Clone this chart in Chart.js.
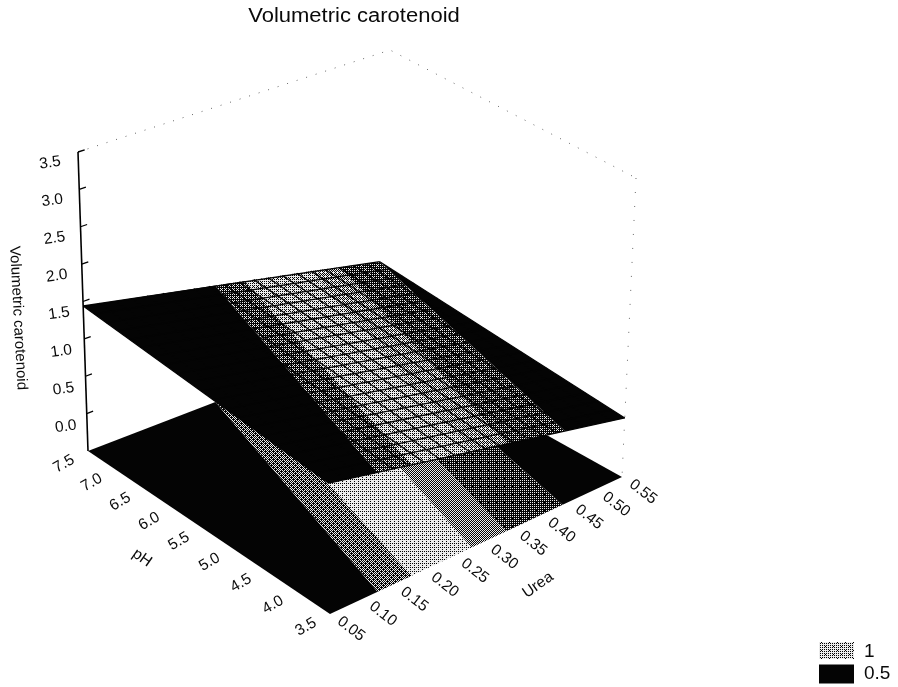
<!DOCTYPE html>
<html><head><meta charset="utf-8">
<style>html,body{margin:0;padding:0;background:#fff}canvas{display:block}</style>
<script src="https://cdn.jsdelivr.net/npm/chart.js@4"></script>
</head><body><canvas id="c" width="898" height="687"></canvas>
<script>
// ---- data ----
const titleText = "Volumetric carotenoid";
const ureaTicks = ["0.05","0.10","0.15","0.20","0.25","0.30","0.35","0.40","0.45","0.50","0.55"];
const phTicks = ["3.5","4.0","4.5","5.0","5.5","6.0","6.5","7.0","7.5"];
const zTicks = ["0.0","0.5","1.0","1.5","2.0","2.5","3.0","3.5"];
const ureaMesh = [0.05,0.075,0.10,0.125,0.15,0.175,0.20,0.225,0.25,0.275,0.30,0.325,0.35,0.375,0.40,0.425,0.45,0.475,0.50,0.525,0.55];
const phMesh = [7.5,7.3,7.1,6.9,6.7,6.5,6.3,6.1,5.9,5.7,5.5,5.3,5.1,4.9,4.7,4.5,4.3,4.1,3.9,3.7,3.5];
// surface height along its four edges
const zAtPh75 = [1.44,1.40,1.35,1.31,1.27,1.23,1.18,1.14,1.10,1.05,1.01,0.97,0.92,0.88,0.84,0.80,0.75,0.71,0.67,0.62,0.58];
const zAtPh35 = [1.14,1.10,1.06,1.01,0.97,0.93,0.88,0.84,0.80,0.76,0.72,0.67,0.63,0.59,0.55,0.50,0.46,0.42,0.38,0.33,0.29];
const zAtUrea05 = [1.44,1.43,1.41,1.40,1.38,1.37,1.35,1.34,1.32,1.31,1.29,1.28,1.26,1.25,1.23,1.22,1.20,1.19,1.17,1.16,1.14];
const zAtUrea55 = [0.58,0.57,0.55,0.54,0.52,0.51,0.49,0.48,0.46,0.45,0.44,0.42,0.41,0.39,0.38,0.36,0.35,0.33,0.32,0.30,0.29];
// contour band boundaries (urea value where each band starts, at both pH ends)
const bandStartAtPh75 = [0.05,0.26,0.31,0.425,0.475,0.55];
const bandStartAtPh35 = [0.05,0.125,0.18,0.28,0.34,0.44];
const bandShadeTop = [0,0.32,0.70,0.56,0.28,0];
const bandShadeFloor = [0,0.40,0.82,0.50,0.24,0];
const legendLabels = ["1","0.5"];
const legendShades = [0.72,0];

// ---- view of the box ----
const floorQuad = [[88,451],[622,477],[330,614],[376,340]]; // (urea lo,pH hi),(urea hi,pH lo),(urea lo,pH lo),(urea hi,pH hi)
const ceilQuad  = [[78,152],[636,178],[327,295],[390,50]];
const Z_MIN = -0.5, Z_MAX = 3.5;
function quadMap(q){
  const p0=q[0],p2=q[1],p3=q[2],p1=q[3]; // p0:(0,0) p1:(1,0) p2:(1,1) p3:(0,1)
  const dx1=p1[0]-p2[0],dx2=p3[0]-p2[0],sx=p0[0]-p1[0]+p2[0]-p3[0];
  const dy1=p1[1]-p2[1],dy2=p3[1]-p2[1],sy=p0[1]-p1[1]+p2[1]-p3[1];
  const den=dx1*dy2-dx2*dy1;
  const g=(sx*dy2-dx2*sy)/den,h=(dx1*sy-sx*dy1)/den;
  const a=p1[0]-p0[0]+g*p1[0],b=p3[0]-p0[0]+h*p3[0],c=p0[0];
  const d=p1[1]-p0[1]+g*p1[1],e=p3[1]-p0[1]+h*p3[1],f=p0[1];
  return (s,t)=>{const w=g*s+h*t+1;return [(a*s+b*t+c)/w,(d*s+e*t+f)/w];};
}
const floorMap=quadMap(floorQuad), ceilMap=quadMap(ceilQuad);
function project(urea,ph,z){
  const s=(urea-0.05)/0.5,t=(7.5-ph)/4,k=(z-Z_MIN)/(Z_MAX-Z_MIN);
  const a=floorMap(s,t),b=ceilMap(s,t);
  return {x:a[0]+(b[0]-a[0])*k,y:a[1]+(b[1]-a[1])*k};
}
function edgeZ(arr,urea){
  const i=(urea-0.05)/0.025,lo=Math.min(Math.floor(i),arr.length-2);
  return arr[lo]+(arr[lo+1]-arr[lo])*(i-lo);
}
// ordered-dither fill like the scanned halftone
const BAYER=[0,32,8,40,2,34,10,42,48,16,56,24,50,18,58,26,12,44,4,36,14,46,6,38,60,28,52,20,62,30,54,22,3,35,11,43,1,33,9,41,51,19,59,27,49,17,57,25,15,47,7,39,13,45,5,37,63,31,55,23,61,29,53,21];
function shade(level){
  const cv=document.createElement('canvas');cv.width=cv.height=8;
  const g=cv.getContext('2d');
  for(let y=0;y<8;y++)for(let x=0;x<8;x++){
    g.fillStyle=(BAYER[y*8+x]+0.5)/64<level?'#ececec':'#040404';
    g.fillRect(x,y,1,1);
  }
  return g.createPattern(cv,'repeat');
}
const paint=[];
function polygon(pts,fillStyle){
  paint.push({data:[...pts,pts[0]],showLine:true,fill:'shape',backgroundColor:fillStyle,borderColor:'#040404',borderWidth:0,pointRadius:0,tension:0});
}
function stroke(pts,color,width,dash){
  paint.push({data:pts,showLine:true,fill:false,borderColor:color,borderWidth:width,borderDash:dash||[],pointRadius:0,tension:0,borderCapStyle:'butt'});
}
// back box edges (dotted)
stroke([project(.05,7.5,Z_MAX),project(.55,7.5,Z_MAX),project(.55,3.5,Z_MAX)],'#666',1,[1,9]);
stroke([project(.55,3.5,Z_MAX),project(.55,3.5,Z_MIN)],'#666',1,[1,13]);
const bandCount=bandShadeTop.length;
const bandEnd=(arr,i)=>i+1<bandCount?arr[i+1]:0.55;
// floor contour map
bandShadeFloor.forEach((lv,i)=>{
  polygon([project(bandStartAtPh75[i],7.5,Z_MIN),project(bandEnd(bandStartAtPh75,i),7.5,Z_MIN),project(bandEnd(bandStartAtPh35,i),3.5,Z_MIN),project(bandStartAtPh35[i],3.5,Z_MIN)],shade(lv));
});
// surface bands
function surfPt(u,ph){return project(u,ph,edgeZ(ph>5?zAtPh75:zAtPh35,u));}
bandShadeTop.forEach((lv,i)=>{
  polygon([surfPt(bandStartAtPh75[i],7.5),surfPt(bandEnd(bandStartAtPh75,i),7.5),surfPt(bandEnd(bandStartAtPh35,i),3.5),surfPt(bandStartAtPh35[i],3.5)],shade(lv));
});
// surface mesh
ureaMesh.forEach((u,i)=>stroke([project(u,7.5,zAtPh75[i]),project(u,3.5,zAtPh35[i])],'#040404',1.3));
phMesh.forEach((p,j)=>stroke([project(.05,p,zAtUrea05[j]),project(.55,p,zAtUrea55[j])],'#040404',1.3));
// z axis and ticks
stroke([project(.05,7.5,Z_MAX),project(.05,7.5,Z_MIN)],'#000',1.6);
stroke([project(.05,7.5,Z_MAX),project(.06,7.5,Z_MAX)],'#000',1.4);
zTicks.slice(0,7).forEach(z=>stroke([project(.05,7.5,+z),project(.06,7.5,+z)],'#000',1.3));

const textPlugin={id:'texts',afterDraw(chart){
  const c=chart.ctx,sx=chart.scales.x,sy=chart.scales.y;
  const put=(txt,x,y,rot,font,sc)=>{
    c.save();c.translate(x,y);c.rotate(rot*Math.PI/180);if(sc)c.scale(sc,1);
    c.font=font;c.fillStyle='#0a0a0a';c.textAlign='center';c.textBaseline='middle';
    c.fillText(txt,0,0);c.restore();
  };
  const F='"Liberation Sans", Arial, sans-serif';
  const at=(p,dx,dy)=>[sx.getPixelForValue(p.x)+dx,sy.getPixelForValue(p.y)+dy];
  put(titleText,354,16,0,'20px '+F,1.1);
  put(titleText,18,318,87,'15px '+F);
  put("pH",142,558,35,'15.5px '+F);
  put("Urea",538,585,-35,'15.5px '+F);
  ureaTicks.forEach(t=>{const [x,y]=at(project(+t,3.5,Z_MIN),21,15);put(t,x,y,38,'15.5px '+F);});
  phTicks.forEach(t=>{const [x,y]=at(project(.05,+t,Z_MIN),-24,13);put(t,x,y,-30,'15.5px '+F);});
  zTicks.forEach(t=>{const [x,y]=at(project(.05,7.5,+t),-21-2*(+t),13-0.6*(+t));put(t,x,y,-8,'15.5px '+F);});
  legendLabels.forEach((t,i)=>{
    const y=642+i*22.5;
    c.fillStyle=shade(legendShades[i]);c.fillRect(819,y,35,i?19:17);
    c.font='19px '+F;c.fillStyle='#0a0a0a';c.textAlign='left';c.textBaseline='middle';
    c.fillText(t,864,y+9.5);
  });
}};
new Chart(document.getElementById('c'),{
  type:'scatter',
  data:{datasets:paint.slice().reverse()},
  options:{responsive:false,animation:false,events:[],
    layout:{padding:0},
    scales:{x:{type:'linear',min:0,max:898,display:false},y:{type:'linear',min:0,max:687,reverse:true,display:false}},
    plugins:{legend:{display:false},title:{display:false},tooltip:{enabled:false},filler:{drawTime:'beforeDatasetDraw',propagate:false}}
  },
  plugins:[textPlugin]
});
</script></body></html>
